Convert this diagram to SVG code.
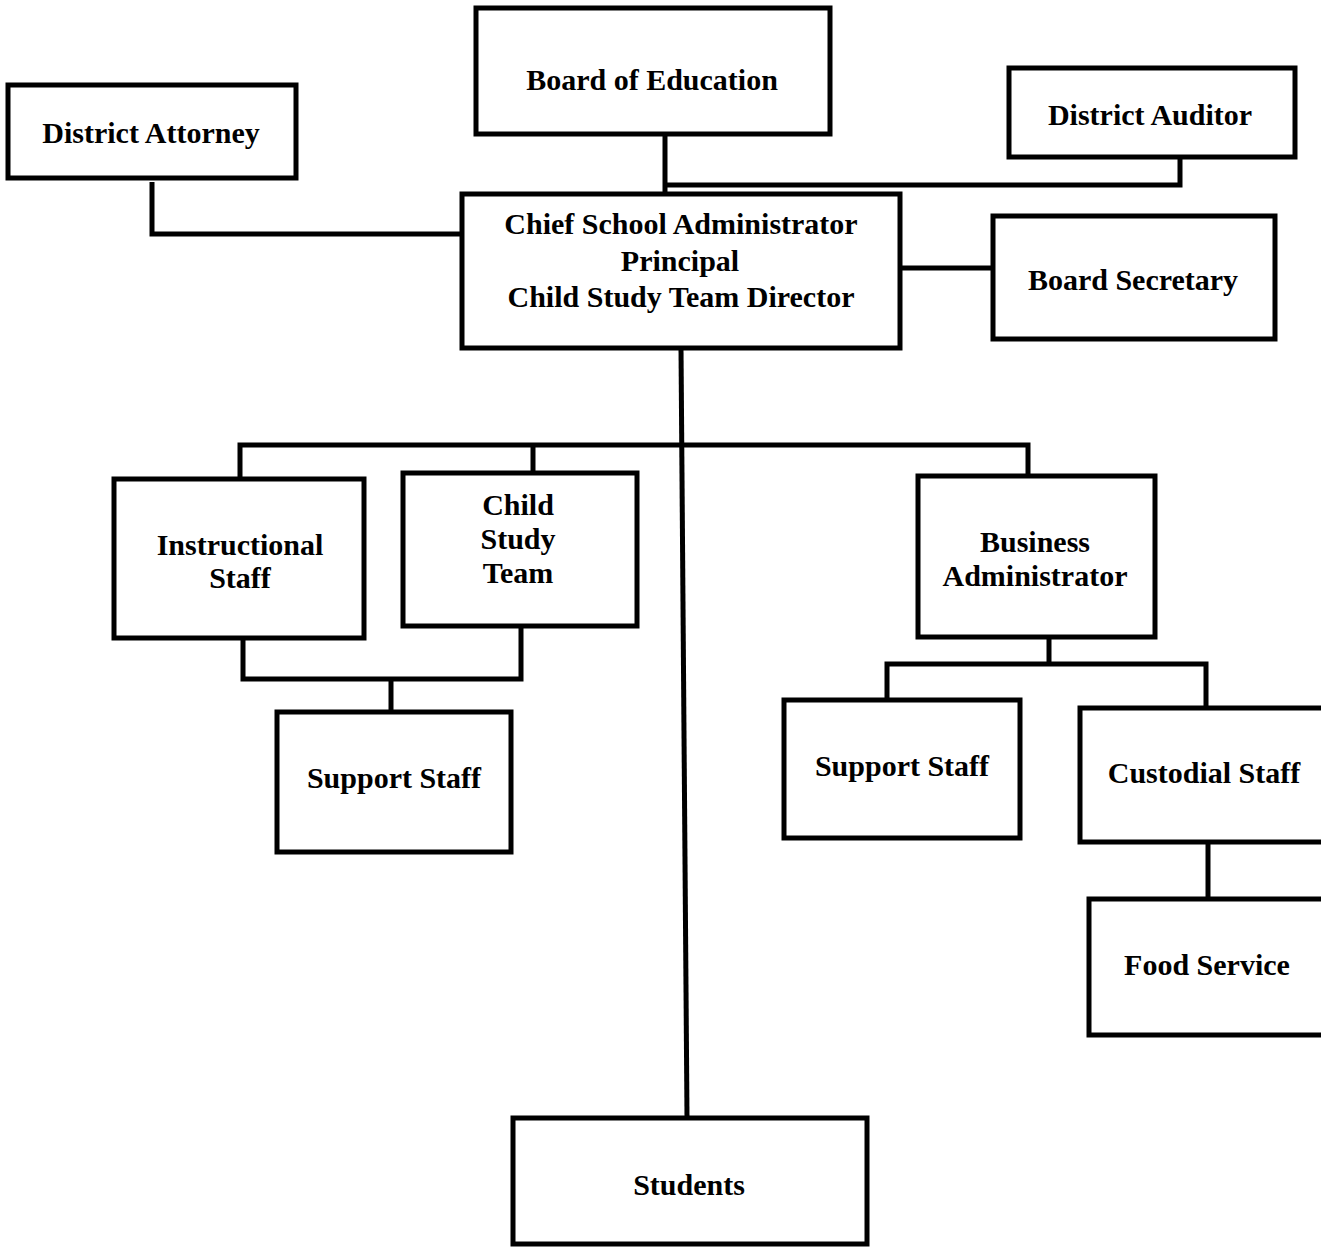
<svg xmlns="http://www.w3.org/2000/svg" width="1321" height="1247" viewBox="0 0 1321 1247">
<style>
.box{fill:#fff;stroke:#000;stroke-width:5}
.c{fill:none;stroke:#000;stroke-width:5;stroke-linejoin:miter}
text{font-family:"Liberation Serif","Times New Roman",serif;font-weight:bold;font-size:30px;fill:#000;text-anchor:middle}
</style>
<rect width="1321" height="1247" fill="#fff"/>
<g id="connectors">
<path class="c" d="M665 134V193"/>
<path class="c" d="M665 185H1180V157"/>
<path class="c" d="M152 182V234H462"/>
<path class="c" d="M900 268H993"/>
<path class="c" d="M681 348L687 1117"/>
<path class="c" d="M240 478V445H1028V475"/>
<path class="c" d="M533 445V472"/>
<path class="c" d="M243 638V679H521V626"/>
<path class="c" d="M391 679V711"/>
<path class="c" d="M1049 637V664"/>
<path class="c" d="M887 699V664H1206V707"/>
<path class="c" d="M1208 842V898"/>
</g>
<g id="board-of-education"><rect class="box" x="476" y="8" width="354" height="126"/><text x="652" y="90">Board of Education</text></g>
<g id="district-attorney"><rect class="box" x="8" y="85" width="288" height="93"/><text x="151" y="143">District Attorney</text></g>
<g id="district-auditor"><rect class="box" x="1009" y="68" width="286" height="89"/><text x="1150" y="125">District Auditor</text></g>
<g id="chief-school-administrator"><rect class="box" x="462" y="194" width="438" height="154"/>
<text x="681" y="234">Chief School Administrator</text><text x="680" y="271">Principal</text><text x="681" y="307">Child Study Team Director</text></g>
<g id="board-secretary"><rect class="box" x="993" y="216" width="282" height="123"/><text x="1133" y="290">Board Secretary</text></g>
<g id="instructional-staff"><rect class="box" x="114" y="479" width="250" height="159"/><text x="240" y="555">Instructional</text><text x="240" y="588">Staff</text></g>
<g id="child-study-team"><rect class="box" x="403" y="473" width="234" height="153"/><text x="518" y="515">Child</text><text x="518" y="549">Study</text><text x="518" y="583">Team</text></g>
<g id="business-administrator"><rect class="box" x="918" y="476" width="237" height="161"/><text x="1035" y="552">Business</text><text x="1035" y="586">Administrator</text></g>
<g id="support-staff-left"><rect class="box" x="277" y="712" width="234" height="140"/><text x="394" y="788">Support Staff</text></g>
<g id="support-staff-right"><rect class="box" x="784" y="700" width="236" height="138"/><text x="902" y="776">Support Staff</text></g>
<g id="custodial-staff"><rect class="box" x="1080" y="708" width="260" height="134"/><text x="1204" y="783">Custodial Staff</text></g>
<g id="food-service"><rect class="box" x="1089" y="899" width="250" height="136"/><text x="1207" y="975">Food Service</text></g>
<g id="students"><rect class="box" x="513" y="1118" width="354" height="126"/><text x="689" y="1195">Students</text></g>
</svg>
